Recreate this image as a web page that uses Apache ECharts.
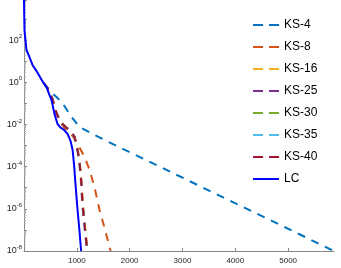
<!DOCTYPE html>
<html>
<head>
<meta charset="utf-8">
<script src="https://cdn.jsdelivr.net/npm/echarts@6/dist/echarts.min.js"></script>
<style>
html,body{margin:0;padding:0;background:#fff;}
#c{width:341px;height:268px;}
</style>
</head>
<body>
<div id="c"></div>
<script>
// x: iteration count, y: log10 of error
var names = ['KS-4','KS-8','KS-16','KS-25','KS-30','KS-35','KS-40','LC'];
var colors = ['#0072BD','#D95319','#EDB120','#7E2F8E','#77AC30','#4DBEEE','#A2142F','#0000FF'];

var lcX = [0,9,47,104,161,237,313,370,427,483,521,578,635,692,749,825,882,920,948,976,1014,1052,1081];
var lcY = [3.9,2.47,1.53,1.19,0.82,0.53,0.20,-0.04,-0.23,-0.61,-0.84,-1.51,-1.98,-2.15,-2.24,-2.45,-2.79,-3.21,-3.92,-4.87,-6.06,-7.10,-8];

var ks4X = [370,483,616,730,901,1052,1299,1527,5868];
var ks4Y = [-0.04,-0.42,-0.70,-0.99,-1.65,-2.12,-2.45,-2.74,-8];

var ks8X = [370,446,540,616,692,787,882,995,1147,1242,1337,1431,1526,1640];
var ks8Y = [-0.04,-0.27,-0.84,-1.51,-1.93,-2.22,-2.41,-2.83,-3.55,-4.16,-5.01,-6.06,-6.91,-8];

var ks16X = [370,446,540,616,692,787,882,962,1020,1058,1088,1117,1155,1193,1202];
var ks16Y = [-0.04,-0.27,-0.80,-1.46,-1.89,-2.12,-2.31,-2.60,-3.21,-3.83,-4.64,-5.82,-6.77,-7.72,-8];

var ks25X = [370,446,540,616,692,787,882,959,1016,1054,1084,1112,1150,1188,1197];
var ks25Y = [-0.04,-0.27,-0.80,-1.46,-1.89,-2.12,-2.31,-2.60,-3.21,-3.83,-4.64,-5.82,-6.77,-7.72,-8];

var ks30X = [370,446,540,616,692,787,882,957,1014,1052,1081,1109,1147,1185,1194];
var ks30Y = [-0.04,-0.27,-0.80,-1.46,-1.89,-2.12,-2.31,-2.60,-3.21,-3.83,-4.64,-5.82,-6.77,-7.72,-8];

var ks35X = [370,446,540,616,692,787,882,953,1009,1046,1075,1103,1141,1179,1188];
var ks35Y = [-0.04,-0.27,-0.80,-1.46,-1.89,-2.12,-2.31,-2.60,-3.21,-3.83,-4.64,-5.82,-6.77,-7.72,-8];

var ks40X = [370,446,540,616,692,787,882,957,1013,1051,1080,1108,1146,1184,1193];
var ks40Y = [-0.04,-0.27,-0.80,-1.46,-1.89,-2.12,-2.31,-2.60,-3.21,-3.83,-4.64,-5.82,-6.77,-7.72,-8];

var xTicks = [1000,2000,3000,4000,5000];
var yTickExps = [-8,-6,-4,-2,0,2];

var xsList = [ks4X,ks8X,ks16X,ks25X,ks30X,ks35X,ks40X,lcX];
var ysList = [ks4Y,ks8Y,ks16Y,ks25Y,ks30Y,ks35Y,ks40Y,lcY];

function pairs(xs, ys){
  var out=[];
  for(var i=0;i<xs.length;i++) out.push([xs[i], Math.pow(10, ys[i])]);
  return out;
}

var series = names.map(function(n,i){
  var isLC = n==='LC';
  return {
    name:n, type:'line', symbol:'none', smooth:false,
    data:pairs(xsList[i], ysList[i]),
    lineStyle:{color:colors[i], width:2, type:isLC?'solid':[8,7]},
    itemStyle:{color:colors[i]},
    emphasis:{disabled:true},
    z: isLC?10:2
  };
});

var dashIcon = 'path://M0,0h10v2h-10z M16,0h10v2h-10z';
var solidIcon = 'path://M0,0h26v2h-26z';

var chart = echarts.init(document.getElementById('c'), null, {renderer:'canvas'});
chart.setOption({
  animation:false,
  backgroundColor:'#fff',
  textStyle:{fontFamily:'Liberation Sans, Arial, sans-serif'},
  grid:{left:24, right:7, top:0, bottom:17, containLabel:false},
  legend:{
    orient:'vertical', left:248, top:14,
    itemWidth:26, itemHeight:2, itemGap:10,
    data:names.map(function(n){ return {name:n, icon: n==='LC'?solidIcon:dashIcon}; }),
    textStyle:{fontSize:12, color:'#000', fontFamily:'Liberation Sans, Arial, sans-serif'},
    selectedMode:false
  },
  xAxis:{
    type:'value', min:0, max:5868, interval:1000,
    axisLine:{show:true, lineStyle:{color:'#8a8a8a', width:1}},
    axisTick:{show:true, inside:true, length:3, lineStyle:{color:'#8a8a8a'}},
    splitLine:{show:false},
    axisLabel:{
      fontSize:8, color:'#262626', margin:6,
      showMinLabel:false, showMaxLabel:false,
      formatter:function(v){ return xTicks.indexOf(v)>=0 ? String(v) : ''; }
    }
  },
  yAxis:{
    type:'log', logBase:10, min:1e-8, max:Math.pow(10,3.9), interval:1,
    axisLine:{show:true, lineStyle:{color:'#8a8a8a', width:1}},
    axisTick:{show:true, inside:true, length:3, lineStyle:{color:'#8a8a8a'}},
    minorTick:{show:true, splitNumber:9, length:2, lineStyle:{color:'#b0b0b0'}},
    splitLine:{show:false},
    minorSplitLine:{show:false},
    axisLabel:{
      margin:2, color:'#262626',
      showMaxLabel:false,
      formatter:function(v){
        var l=Math.log10(v), e=Math.round(l);
        if(Math.abs(l-e)>1e-6 || yTickExps.indexOf(e)<0) return '';
        return '{b|10}{s|'+e+'}';
      },
      rich:{
        b:{fontSize:9, color:'#262626', fontFamily:'Liberation Sans, Arial, sans-serif'},
        s:{fontSize:6, color:'#262626', fontFamily:'Liberation Sans, Arial, sans-serif', padding:[0,0,7,0]}
      }
    }
  },
  series:series
});
</script>
</body>
</html>
